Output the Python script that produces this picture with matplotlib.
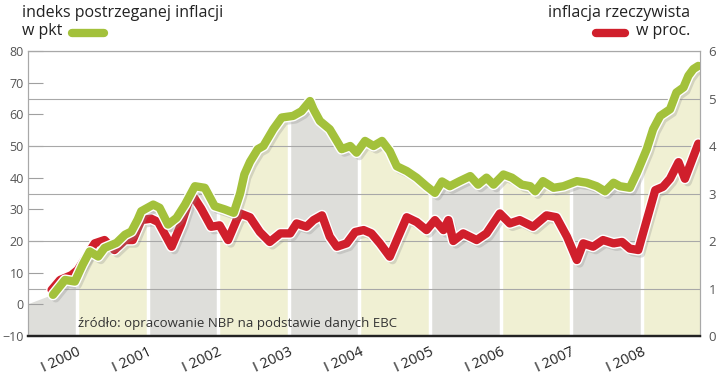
import numpy as np
import matplotlib.pyplot as plt
import matplotlib.patheffects as pe
from matplotlib.patches import Polygon
from matplotlib.lines import Line2D

# indeks postrzeganej inflacji (pkt) - lewa oś
t_pkt = [1999.66, 1999.83, 1999.97, 2000.08, 2000.18, 2000.30, 2000.39, 2000.56,
         2000.68, 2000.77, 2000.86, 2000.91, 2001.08, 2001.17, 2001.29, 2001.41,
         2001.53, 2001.67, 2001.81, 2001.95, 2002.09, 2002.22, 2002.31, 2002.37,
         2002.45, 2002.56, 2002.64, 2002.78, 2002.90, 2003.06, 2003.18, 2003.30,
         2003.35, 2003.44, 2003.58, 2003.68, 2003.75, 2003.87, 2003.96, 2004.08,
         2004.20, 2004.32, 2004.43, 2004.53, 2004.67, 2004.81, 2004.95, 2005.07,
         2005.17, 2005.28, 2005.42, 2005.57, 2005.68, 2005.80, 2005.90, 2006.04,
         2006.16, 2006.30, 2006.42, 2006.49, 2006.60, 2006.75, 2006.89, 2007.08,
         2007.22, 2007.36, 2007.48, 2007.60, 2007.69, 2007.83, 2007.93, 2008.07,
         2008.16, 2008.26, 2008.40, 2008.49, 2008.59, 2008.66, 2008.73, 2008.80]
indeks = [3.0, 7.7, 7.2, 12.5, 16.7, 15.1, 17.8, 19.4,
          22.0, 23.0, 26.8, 29.4, 31.5, 30.5, 25.2, 27.3,
          31.5, 37.3, 36.8, 31.0, 30.0, 28.9, 35.0, 41.0,
          45.0, 49.0, 50.0, 55.3, 59.0, 59.5, 61.0, 64.2,
          61.6, 57.9, 55.3, 51.6, 49.0, 50.0, 47.9, 51.6,
          50.0, 51.6, 48.4, 43.6, 42.1, 40.0, 37.3, 35.2,
          38.8, 37.3, 38.9, 40.5, 37.8, 40.0, 37.8, 41.0,
          40.0, 37.8, 37.3, 35.7, 38.9, 36.8, 37.3, 38.9,
          38.4, 37.3, 35.7, 38.4, 37.3, 36.8, 41.5, 49.0,
          55.3, 59.5, 61.6, 66.9, 68.5, 72.2, 74.3, 75.3]

# inflacja rzeczywista (proc.) - prawa oś
t_proc = [1999.64, 1999.76, 1999.92, 2000.01, 2000.13, 2000.25, 2000.39, 2000.53,
          2000.68, 2000.79, 2000.91, 2001.05, 2001.15, 2001.34, 2001.48, 2001.62,
          2001.76, 2001.90, 2002.02, 2002.14, 2002.26, 2002.31, 2002.45, 2002.59,
          2002.73, 2002.88, 2003.02, 2003.11, 2003.25, 2003.35, 2003.47, 2003.58,
          2003.68, 2003.82, 2003.94, 2004.06, 2004.17, 2004.29, 2004.43, 2004.53,
          2004.67, 2004.81, 2004.95, 2005.07, 2005.19, 2005.26, 2005.33, 2005.47,
          2005.66, 2005.80, 2005.99, 2006.13, 2006.27, 2006.46, 2006.65, 2006.79,
          2006.94, 2007.08, 2007.17, 2007.31, 2007.45, 2007.60, 2007.72, 2007.83,
          2007.95, 2008.07, 2008.19, 2008.30, 2008.40, 2008.52, 2008.61, 2008.71,
          2008.80]
inflacja = [0.97, 1.18, 1.28, 1.39, 1.67, 1.95, 2.02, 1.81,
            2.02, 2.02, 2.44, 2.47, 2.40, 1.88, 2.37, 3.00,
            2.68, 2.30, 2.33, 2.02, 2.44, 2.58, 2.50, 2.19,
            1.98, 2.16, 2.16, 2.37, 2.30, 2.44, 2.54, 2.09,
            1.88, 1.95, 2.19, 2.23, 2.16, 1.95, 1.67, 2.02,
            2.50, 2.40, 2.23, 2.44, 2.23, 2.44, 2.00, 2.16,
            2.02, 2.16, 2.58, 2.37, 2.44, 2.30, 2.54, 2.50,
            2.09, 1.60, 1.95, 1.88, 2.02, 1.95, 1.98, 1.84,
            1.81, 2.44, 3.07, 3.14, 3.31, 3.66, 3.31, 3.70,
            4.05]

lata = [1999, 2000, 2001, 2002, 2003, 2004, 2005, 2006, 2007, 2008, 2009]
etykiety = ['I 2000', 'I 2001', 'I 2002', 'I 2003', 'I 2004',
            'I 2005', 'I 2006', 'I 2007', 'I 2008']

x_min, x_max = 1999.306, 2008.824
zielony = '#a3c13b'
czerwony = '#d01f2c'
szary_pas = '#dededa'
zolty_pas = '#f0f0d3'

plt.rcParams['font.family'] = ['Open Sans', 'DejaVu Sans']

fig = plt.figure(figsize=(7.2, 3.79), dpi=100)
ax = fig.add_axes([28/720, 43/379, 672/720, 285/379])
ax2 = ax.twinx()

ax.set_xlim(x_min, x_max)
ax.set_ylim(-10, 80)
ax2.set_ylim(0, 6)

# tlo pod krzywa indeksu
wierzch = [(x_min, -10), (x_min, 0)] + list(zip(t_pkt, indeks)) + [(x_max, indeks[-1]), (x_max, -10)]
obszar = Polygon(wierzch, closed=True, facecolor='none', edgecolor='none', transform=ax.transData)
ax.add_patch(obszar)
for i in range(len(lata) - 1):
    kol = szary_pas if i % 2 == 0 else zolty_pas
    pas = ax.axvspan(lata[i], lata[i + 1], color=kol, lw=0, zorder=0)
    pas.set_clip_path(obszar)
for r in lata[1:-1]:
    l = ax.axvline(r, color='white', lw=2.5, zorder=1)
    l.set_clip_path(obszar)

# siatka z prawej osi
ax2.set_axisbelow(True)
ax2.set_yticks(range(0, 7))
ax2.grid(axis='y', color='#a8a8a8', lw=0.8)
ax2.tick_params(axis='y', length=0, labelsize=9.5, labelcolor='#555555', pad=6)

ax.set_yticks(range(-10, 90, 10))
ax.tick_params(axis='y', direction='in', length=11, color='#a0a0a0', width=0.8,
               labelsize=9, labelcolor='#555555', pad=3)
ax.set_xticks(lata[1:-1])
ax.set_xticklabels(etykiety, rotation=25, ha='right', rotation_mode='anchor',
                   fontsize=10.5, color='#222222')
ax.tick_params(axis='x', length=0, pad=6)

for a in (ax, ax2):
    for s in ('left', 'right', 'top'):
        a.spines[s].set_color('#a8a8a8')
        a.spines[s].set_linewidth(0.8)
    a.spines['bottom'].set_color('#222222')
    a.spines['bottom'].set_linewidth(1.6)

efekt = [pe.SimpleLineShadow(offset=(2, -2.5), shadow_color='#888888', alpha=0.28),
         pe.Stroke(linewidth=8.0, foreground='white'), pe.Normal()]

ax2.plot(t_proc, inflacja, color=czerwony, lw=6, solid_capstyle='round',
         solid_joinstyle='round', path_effects=efekt, zorder=3)
ax2.plot(t_pkt, indeks, color=zielony, lw=6, solid_capstyle='round',
         solid_joinstyle='round', path_effects=efekt, zorder=4, transform=ax.transData)

ax.text(0.074, 0.02, 'źródło: opracowanie NBP na podstawie danych EBC', transform=ax.transAxes,
        fontsize=9.5, color='#333333', va='bottom', ha='left', zorder=5)

# opisy serii
fig.text(22/720, 1 - 17/379, 'indeks postrzeganej inflacji', fontsize=11.5, color='#222222', va='baseline')
fig.text(22/720, 1 - 35/379, 'w pkt', fontsize=11.5, color='#222222', va='baseline')
fig.add_artist(Line2D([72/720, 104/720], [1 - 33/379] * 2, lw=6, color=zielony, solid_capstyle='round'))
fig.text(690/720, 1 - 17/379, 'inflacja rzeczywista', fontsize=11.5, color='#222222', va='baseline', ha='right')
fig.text(690/720, 1 - 35/379, 'w proc.', fontsize=11.5, color='#222222', va='baseline', ha='right')
fig.add_artist(Line2D([596/720, 625/720], [1 - 33/379] * 2, lw=6, color=czerwony, solid_capstyle='round'))

fig.savefig('out.png', dpi=100)
